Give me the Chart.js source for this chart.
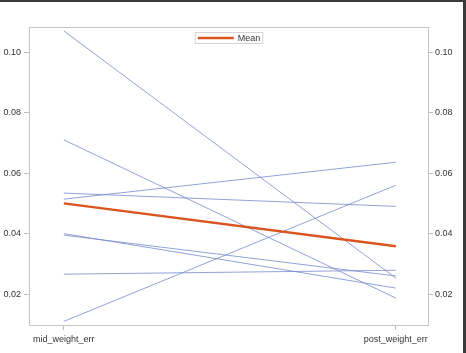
<!DOCTYPE html>
<html>
<head>
<meta charset="utf-8">
<script src="https://cdn.jsdelivr.net/npm/chart.js@4.4.1/dist/chart.umd.min.js"></script>
<style>
  html, body { margin: 0; padding: 0; background: #fff; }
  #frame {
    width: 466px; height: 353px; box-sizing: border-box;
    border-top: 2px solid #3a3a3a; border-right: 3px solid #3a3a3a;
  }
  #wrap { position: relative; width: 463px; height: 351px; }
</style>
</head>
<body>
<div id="frame"><div id="wrap"><canvas id="myChart"></canvas></div></div>
<script>
// categories on the x axis
const categories = ['mid_weight_err', 'post_weight_err'];
// one line per subject: value at mid and at post
const midValues  = [0.107, 0.071, 0.0534, 0.0514, 0.0400, 0.0395, 0.0266, 0.011];
const postValues = [0.0253, 0.0187, 0.049, 0.0636, 0.0220, 0.0260, 0.0279, 0.056];
// mean line
const meanValues = [0.050, 0.0358];
const yTicks = [0.02, 0.04, 0.06, 0.08, 0.10];

const FONT = "'Liberation Sans', Arial, sans-serif";

const datasets = midValues.map((v, i) => ({
    label: 'subject ' + (i + 1),
    data: [{ x: 0, y: v }, { x: 1, y: postValues[i] }],
    borderColor: 'rgba(120,138,205,0.8)',
    borderWidth: 1,
    pointRadius: 0,
    order: 1
}));
datasets.push({
    label: 'Mean',
    data: meanValues.map((v, i) => ({ x: i, y: v })),
    borderColor: '#d9541e',
    backgroundColor: '#d9541e',
    borderWidth: 2.5,
    pointRadius: 0,
    order: 0
});

const frameBox = {
    id: 'frameBox',
    afterDraw(chart) {
        const { ctx, chartArea: a } = chart;
        ctx.save();
        ctx.strokeStyle = '#c4c4c4';
        ctx.lineWidth = 1;
        ctx.strokeRect(a.left + 0.5, a.top + 0.5, a.right - a.left - 1, a.bottom - a.top);

        // legend box inside the plot, top centre
        ctx.font = '9px ' + FONT;
        const text = 'Mean';
        const tw = ctx.measureText(text).width;
        const w = 3 + 36 + 4 + tw + 3;
        const h = 12;
        const x = (a.left + a.right) / 2 - w / 2;
        const y = a.top + 5;
        ctx.fillStyle = '#fff';
        ctx.fillRect(x, y, w, h);
        ctx.strokeStyle = '#d4d4d4';
        ctx.strokeRect(x + 0.5, y + 0.5, w - 1, h - 1);
        ctx.strokeStyle = '#d9541e';
        ctx.lineWidth = 2.5;
        ctx.beginPath();
        ctx.moveTo(x + 3, y + h / 2);
        ctx.lineTo(x + 39, y + h / 2);
        ctx.stroke();
        ctx.fillStyle = '#333';
        ctx.textBaseline = 'middle';
        ctx.fillText(text, x + 43, y + h / 2 + 0.5);
        ctx.restore();
    }
};

const yAxis = (position, width) => ({
    type: 'linear',
    position: position,
    min: 0.0098,
    max: 0.1083,
    afterBuildTicks: s => { s.ticks = yTicks.map(v => ({ value: v })); },
    afterFit: s => { s.width = width; },
    border: { display: false },
    grid: { drawOnChartArea: false, drawTicks: true, tickLength: position === 'left' ? 5 : 4, color: '#bdbdbd' },
    ticks: {
        padding: position === 'left' ? 3 : 2,
        color: '#333',
        font: { family: FONT, size: 9 },
        callback: v => v.toFixed(2)
    }
});

new Chart(document.getElementById('myChart'), {
    type: 'line',
    data: { datasets: datasets },
    options: {
        responsive: true,
        maintainAspectRatio: false,
        animation: false,
        layout: { padding: { top: 25, left: 0, right: 0, bottom: 0 } },
        plugins: {
            legend: { display: false },
            tooltip: { enabled: false }
        },
        scales: {
            x: {
                type: 'linear',
                min: -0.105,
                max: 1.1,
                afterBuildTicks: s => { s.ticks = categories.map((c, i) => ({ value: i })); },
                afterFit: s => { s.height = 28; },
                border: { display: false },
                grid: { drawOnChartArea: false, drawTicks: true, tickLength: 5, color: '#bdbdbd' },
                ticks: {
                    padding: 4,
                    maxRotation: 0,
                    autoSkip: false,
                    color: '#333',
                    font: { family: FONT, size: 9 },
                    callback: v => categories[v]
                }
            },
            y: yAxis('left', 29),
            y2: yAxis('right', 34)
        }
    },
    plugins: [frameBox]
});
</script>
</body>
</html>
